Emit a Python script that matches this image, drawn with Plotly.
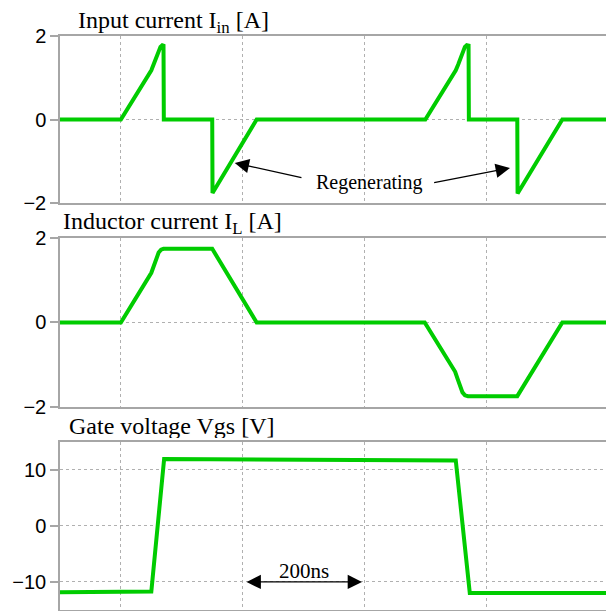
import plotly.graph_objects as go
from plotly.subplots import make_subplots

# time axis in ns
t_in = [100, 200, 250, 254, 258, 262, 265, 268, 270, 270.5, 350, 350.5, 423,
        700, 750, 754, 758, 762, 765, 768, 771, 771.5, 851, 851.5, 925, 1000]
i_in = [0, 0, 1.18, 1.32, 1.50, 1.65, 1.74, 1.78, 1.77, 0, 0, -1.76, 0,
        0, 1.18, 1.32, 1.50, 1.65, 1.74, 1.78, 1.77, 0, 0, -1.77, 0, 0]

t_L = [100, 200, 250, 254, 258, 262, 266, 270, 350, 423,
       699, 749, 753, 757, 761, 765, 770, 851, 925, 1000]
i_L = [0, 0, 1.18, 1.34, 1.52, 1.66, 1.73, 1.75, 1.75, 0,
       0, -1.17, -1.34, -1.52, -1.66, -1.73, -1.75, -1.75, 0, 0]

t_g = [100, 250, 271, 750, 773, 1000]
v_g = [-11.85, -11.7, 11.9, 11.65, -11.95, -11.95]

titles = ["Input current I<sub>in</sub> [A]", "Inductor current I<sub>L</sub> [A]", "Gate voltage Vgs [V]"]
GREEN = "#00cc00"
FRAME = "#a6a6a6"
GRID = "#b0b0b0"

fig = make_subplots(rows=3, cols=1, shared_xaxes=False)
for i, (t, v) in enumerate([(t_in, i_in), (t_L, i_L), (t_g, v_g)]):
    fig.add_trace(go.Scatter(x=t, y=v, mode="lines", line=dict(color=GREEN, width=4),
                             showlegend=False), row=i + 1, col=1)

domains = [[0.709, 1.0], [0.3542, 0.6476], [0.0, 0.2932]]
yranges = [[-2, 2], [-2, 2], [-15, 15]]
ytv = [[-2, 0, 2], [-2, 0, 2], [-10, 0, 10]]
for i in range(3):
    xa = "xaxis" if i == 0 else f"xaxis{i+1}"
    ya = "yaxis" if i == 0 else f"yaxis{i+1}"
    fig.layout[xa].update(range=[100, 1000], tick0=0, dtick=200, showticklabels=False,
                          showgrid=True, gridcolor=GRID, griddash="dot", gridwidth=1,
                          zeroline=False, showline=True, linecolor=FRAME, linewidth=1.5,
                          mirror=True, ticks="", automargin=False)
    fig.layout[ya].update(domain=domains[i], range=yranges[i], tickvals=ytv[i],
                          showgrid=True, gridcolor=GRID, griddash="dot", gridwidth=1,
                          zeroline=False, showline=True, linecolor=FRAME, linewidth=1.5,
                          mirror=True, ticks="outside", ticklen=8, tickcolor=FRAME,
                          tickwidth=1.5, automargin=False,
                          tickfont=dict(family="Liberation Sans, Arial", size=20, color="black"))

serif = dict(family="Liberation Serif, Times New Roman", size=24, color="black")
title_pos = [(0.0305, 1.024), (0.0042, 0.6737), (0.0151, 0.3209)]
for txt, (px, py) in zip(titles, title_pos):
    fig.add_annotation(text=txt, x=px, y=py, xref="paper", yref="paper",
                       xanchor="left", yanchor="middle", showarrow=False, font=serif,
                       height=24, borderpad=0, valign="middle")

# Regenerating annotation
fig.add_annotation(text="Regenerating", x=609, y=-1.52, xref="x", yref="y",
                   showarrow=False, font=dict(family="Liberation Serif", size=20, color="black"))
fig.add_annotation(x=387, y=-1.04, ax=499, ay=-1.40, xref="x", yref="y", axref="x", ayref="y",
                   text="", showarrow=True, arrowhead=2, arrowsize=2.2, arrowwidth=1.3,
                   arrowcolor="black")
fig.add_annotation(x=839, y=-1.16, ax=712, ay=-1.52, xref="x", yref="y", axref="x", ayref="y",
                   text="", showarrow=True, arrowhead=2, arrowsize=2.2, arrowwidth=1.3,
                   arrowcolor="black")

# 200ns annotation
fig.add_annotation(x=596, y=-10, ax=404, ay=-10, xref="x3", yref="y3", axref="x3", ayref="y3",
                   text="", showarrow=True, arrowhead=2, startarrowhead=2, arrowside="end+start",
                   arrowsize=2.2, startarrowsize=2.2, arrowwidth=1.3, arrowcolor="black")
fig.add_annotation(text="200ns", x=500, y=-8.0, xref="x3", yref="y3", showarrow=False,
                   font=dict(family="Liberation Serif", size=21, color="black"))

# page body has an 8px margin: size the figure so the plot lands where the reference has it
fig.update_layout(width=606, height=603, margin=dict(l=52, r=6, t=28, b=1, autoexpand=False),
                  paper_bgcolor="white", plot_bgcolor="white")
fig.write_html("out.html")
